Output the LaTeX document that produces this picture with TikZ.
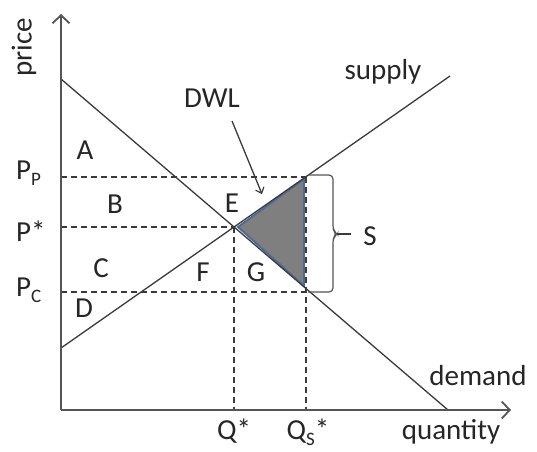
\documentclass[tikz,border=0pt]{standalone}
\usepackage{fontspec}
\setmainfont{Carlito}
\usetikzlibrary{arrows.meta}
\newcommand{\lowsub}[1]{\raisebox{-0.22em}{\fontsize{19}{19}\selectfont #1}}
\definecolor{txt}{HTML}{262626}
\definecolor{axisc}{HTML}{555555}
\definecolor{linec}{HTML}{3A3A3A}
\definecolor{dwlfill}{HTML}{7F7F7F}
\definecolor{dwledge}{HTML}{4E6A96}
\tikzset{
  lbl/.style={text=txt, font=\fontsize{29}{31}\selectfont, inner sep=0pt},
  axisline/.style={draw=axisc, line width=2.8pt, -{Straight Barb[length=8pt,width=17pt,line width=1.8pt]}},
  curve/.style={draw=linec, line width=1.3pt},
  guide/.style={draw=linec, line width=1.4pt, dash pattern=on 6pt off 4pt},
  dwltri/.style={fill=dwlfill, draw=dwledge, line width=2pt, line join=miter},
  bracec/.style={draw=axisc, line width=1.2pt, rounded corners=4pt},
}
\begin{document}
\begin{tikzpicture}[x=1pt,y=-1pt]
\useasboundingbox (0,0) rectangle (537,451);
% key points
\coordinate (O) at (61,410);
\coordinate (ytop) at (61,14);
\coordinate (xend) at (511,410);
\coordinate (d1) at (61,79);
\coordinate (d2) at (448,410);
\coordinate (s1) at (61,348);
\coordinate (s2) at (450,76);
\coordinate (eq) at (234,227);
\coordinate (pp0) at (61,177);
\coordinate (pp1) at (306,177);
\coordinate (ps0) at (61,227);
\coordinate (pc0) at (61,292);
\coordinate (pc1) at (306,292);
\coordinate (qs0) at (234,410);
\coordinate (qss0) at (306,410);
\coordinate (t1) at (238,227);
\coordinate (t2) at (304,179);
\coordinate (t3) at (304,286);
% dashed guides
\draw[guide] (pp0) -- (pp1);
\draw[guide] (ps0) -- (eq);
\draw[guide] (pc0) -- (pc1);
\draw[guide] (eq) -- (qs0);
\draw[guide] (pp1) -- (qss0);
% DWL triangle
\draw[dwltri] (t1) -- (t2) -- (t3) -- cycle;
% curves
\draw[curve] (d1) -- (d2);
\draw[curve] (s1) -- (s2);
% axes
\draw[axisline] (O) -- (ytop);
\draw[axisline] (O) -- (xend);
% brace
\draw[bracec] (308,175) -- (333,175) -- (333,230) -- (337,234) -- (333,238) -- (333,292) -- (308,292);
\coordinate (bt) at (337,234);
\coordinate (bte) at (351,234);
\draw[draw=linec, line width=1.6pt] (bt) -- (bte);
% labels
\node[lbl, rotate=90] (price) at (24,47) {price};
\node[lbl] (A) at (85,150) {A};
\node[lbl] (B) at (115,204) {B};
\node[lbl] (C) at (101,268) {C};
\node[lbl] (D) at (84,308) {D};
\node[lbl] (E) at (232,203) {E};
\node[lbl] (F) at (203,272) {F};
\node[lbl] (G) at (256,272) {G};
\node[lbl] (S) at (370,236) {S};
\node[lbl, anchor=west] (PP) at (16,173) {P\lowsub{P}};
\node[lbl, anchor=west] (Ps) at (16,231) {P*};
\node[lbl, anchor=west] (PC) at (16,290) {P\lowsub{C}};
\node[lbl] (DWL) at (212,98) {DWL};
\node[lbl] (supply) at (383,72) {supply};
\node[lbl] (demand) at (478,376) {demand};
\node[lbl, anchor=base] (Qs) at (234,439) {Q*};
\node[lbl, anchor=base] (QS) at (308,439) {Q\lowsub{S}*};
\node[lbl, anchor=base] (qty) at (451,439) {quantity};
% DWL arrow
\coordinate (arrst) at (232,121);
\coordinate (arrtip) at (262,194);
\draw[draw=linec, line width=1.3pt, -{Straight Barb[length=5pt,width=9pt,line width=1.2pt]}] (arrst) -- (arrtip);
\end{tikzpicture}
\end{document}
